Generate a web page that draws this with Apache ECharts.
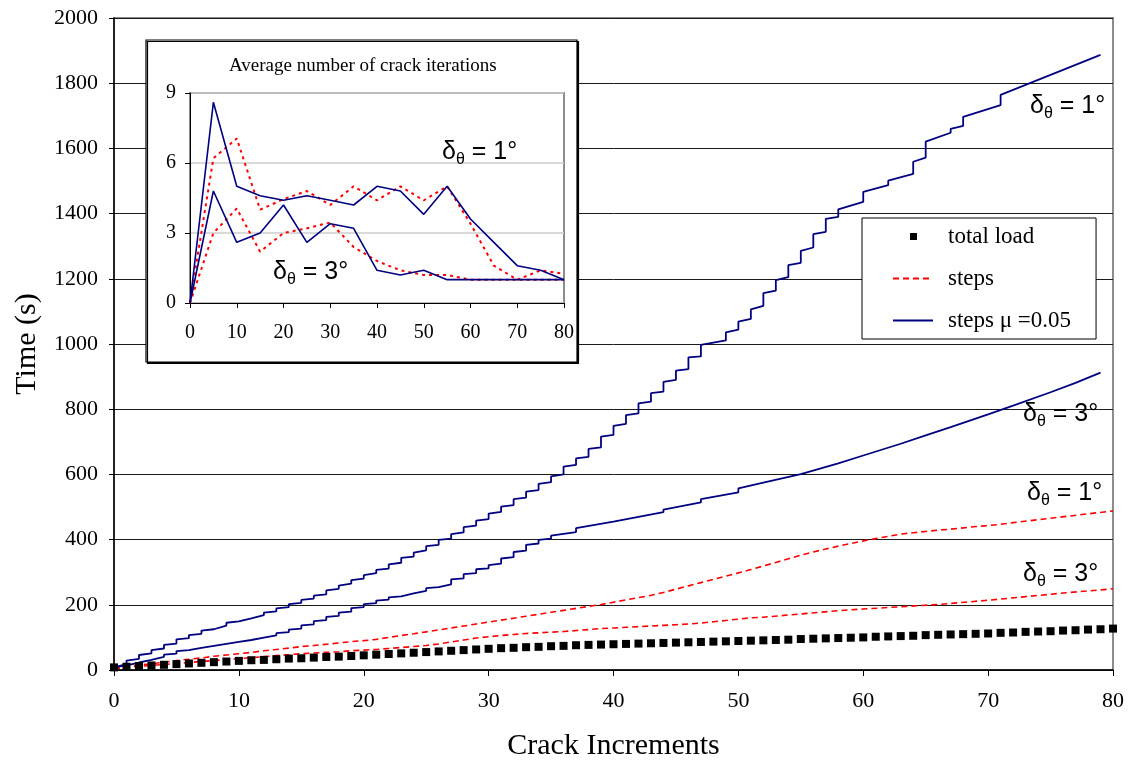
<!DOCTYPE html>
<html>
<head>
<meta charset="utf-8">
<script src="https://cdn.jsdelivr.net/npm/echarts@6/dist/echarts.min.js"></script>
<style>
  html, body { margin: 0; padding: 0; background: #fff; }
  #chart { width: 1129px; height: 763px; }
</style>
</head>
<body>
<div id="chart"></div>
<script>
// ---- Main chart: run time per crack increment ----
// Axis ticks
const xTicks = [0, 10, 20, 30, 40, 50, 60, 70, 80];
const yTicks = [0, 200, 400, 600, 800, 1000, 1200, 1400, 1600, 1800, 2000];

// Total load time, one value per crack increment 0..80
const totalLoad = [8, 10, 12, 14, 16, 18, 20, 22, 24, 26, 28, 30, 31, 33, 35, 36, 38, 40, 41, 43,
  45, 47, 49, 51, 53, 55, 57, 59, 61, 63, 65, 67, 68, 70, 71, 73, 74, 76, 77, 78,
  79, 80, 81, 82, 83, 84, 85, 86, 87, 88, 89, 90, 91, 92, 93, 95, 96, 97, 98, 99,
  100, 102, 103, 104, 105, 107, 108, 109, 110, 111, 112, 114, 115, 117, 118, 119, 121, 122, 124, 125, 127];

// "steps", delta_theta = 1 deg
const stepsOneX = [0, 1, 2, 3, 4, 5, 6, 7, 8, 9, 10, 11, 12, 13, 14, 15, 16, 17, 18, 19, 20,
  21, 22, 23, 24, 25, 26, 27, 28, 29, 30, 31, 32, 33, 34, 35, 36, 37, 38, 39, 40,
  41, 42, 43, 44, 45, 46, 47, 48, 49, 50, 51, 52, 53, 54, 55, 56, 57, 58, 59, 60,
  61, 62, 63, 64, 65, 66, 67, 68, 69, 70, 71, 72, 80];
const stepsOneY = [5, 10, 15, 19, 24, 29, 33, 37, 42, 46, 50, 54, 59, 63, 67, 72, 75, 79, 83, 87, 90,
  94, 100, 106, 111, 117, 123, 129, 135, 141, 147, 153, 159, 165, 171, 177, 183, 189, 195, 201, 208,
  215, 222, 229, 238, 248, 258, 268, 278, 288, 298, 308, 319, 330, 341, 352, 362, 371, 380, 388, 396,
  403, 410, 417, 421, 425, 429, 432, 436, 440, 443, 447, 452, 488];

// "steps", delta_theta = 3 deg
const stepsThreeX = [0, 1, 2, 3, 4, 5, 6, 7, 8, 9, 10, 11, 12, 13, 14, 15, 16, 17, 18, 19, 20,
  21, 22, 23, 24, 25, 26, 27, 28, 29, 30, 31, 32, 33, 34, 35, 36, 37, 38, 39, 40,
  41, 42, 43, 44, 45, 46, 47, 48, 49, 50, 51, 52, 55, 58, 60, 63, 66, 70, 73, 76, 80];
const stepsThreeY = [5, 8, 11, 14, 17, 20, 23, 26, 29, 32, 35, 38, 41, 44, 47, 50, 52, 54, 56, 59, 61,
  63, 66, 69, 72, 75, 80, 86, 92, 98, 102, 106, 109, 112, 114, 116, 118, 121, 124, 127, 129,
  131, 133, 135, 137, 139, 141, 144, 148, 152, 156, 160, 162, 172, 182, 187, 194, 201, 214, 225, 236, 249];

// "steps mu = 0.05", delta_theta = 1 deg: time before / after each crack iteration jump
const muOneX = [0, 1, 2, 3, 4, 5, 6, 7, 8, 9, 10, 11, 12, 13, 14, 15, 16, 17, 18, 19, 20,
  21, 22, 23, 24, 25, 26, 27, 28, 29, 30, 31, 32, 33, 34, 35, 36, 37, 38, 39, 40,
  41, 42, 43, 44, 45, 46, 47, 49, 50, 51, 52, 53, 54, 55, 56, 57, 58, 60, 62, 64, 65, 67, 68, 71, 79];
const muOneBefore = [8, 18, 34, 51, 66, 81, 98, 111, 125, 136, 149, 158, 168, 180, 193, 206, 219, 232, 249, 265, 280,
  297, 311, 329, 348, 367, 384, 403, 422, 443, 463, 485, 506, 529, 552, 576, 600, 629, 654, 683, 721,
  755, 787, 823, 854, 890, 923, 962, 1011, 1044, 1077, 1117, 1164, 1205, 1249, 1296, 1344, 1390, 1436, 1487, 1522, 1572, 1648, 1669, 1733, 1887];
const muOneAfter = [8, 29, 46, 61, 77, 94, 107, 121, 131, 145, 154, 164, 176, 189, 202, 215, 228, 244, 259, 276, 291,
  307, 324, 344, 360, 380, 399, 417, 438, 458, 480, 501, 524, 547, 571, 594, 624, 649, 678, 716, 749,
  782, 818, 849, 884, 918, 959, 997, 1036, 1069, 1106, 1156, 1196, 1242, 1286, 1337, 1384, 1413, 1467, 1501, 1559, 1621, 1660, 1697, 1764, 1887];

// "steps mu = 0.05", delta_theta = 3 deg
const muThreeX = [0, 1, 2, 3, 4, 5, 6, 7, 8, 9, 10, 11, 12, 13, 14, 15, 16, 17, 18, 19, 20,
  21, 22, 23, 24, 25, 26, 27, 28, 29, 30, 31, 32, 33, 34, 35, 37, 40, 44, 47, 50,
  52, 55, 58, 60, 63, 65, 67, 70, 72, 75, 77, 79];
const muThreeBefore = [8, 14, 23, 31, 40, 50, 61, 68, 74, 80, 86, 92, 99, 106, 116, 127, 140, 153, 166, 179, 193,
  205, 216, 226, 235, 243, 254, 263, 281, 297, 312, 326, 346, 366, 388, 403, 423, 455, 484, 514, 545,
  575, 601, 634, 658, 694, 720, 745, 784, 811, 852, 881, 912];
const muThreeAfter = [8, 20, 28, 37, 47, 58, 66, 72, 78, 84, 90, 97, 104, 113, 124, 137, 150, 163, 176, 190, 202,
  213, 223, 232, 240, 251, 260, 278, 294, 309, 322, 342, 362, 384, 399, 412, 435, 459, 492, 524, 557,
  575, 601, 634, 658, 694, 720, 745, 784, 811, 852, 881, 912];

// ---- Inset: average number of crack iterations ----
const insetX = [0, 5, 10, 15, 20, 25, 30, 35, 40, 45, 50, 55, 60, 65, 70, 75, 80];
const insetXTicks = [0, 10, 20, 30, 40, 50, 60, 70, 80];
const insetYTicks = [0, 3, 6, 9];
const iterMuOne = [0, 8.6, 5.0, 4.6, 4.4, 4.6, 4.4, 4.2, 5.0, 4.8, 3.8, 5.0, 3.6, 2.6, 1.6, 1.4, 1.0];
const iterMuThree = [0, 4.8, 2.6, 3.0, 4.2, 2.6, 3.4, 3.2, 1.4, 1.2, 1.4, 1.0, 1.0, 1.0, 1.0, 1.0, 1.0];
const iterStepsOne = [0, 6.2, 7.05, 4.0, 4.45, 4.8, 4.2, 5.0, 4.4, 5.0, 4.4, 5.0, 3.4, 1.6, 1.0, 1.4, 1.25];
const iterStepsThree = [0, 3.0, 4.05, 2.2, 3.0, 3.2, 3.45, 2.4, 1.8, 1.4, 1.2, 1.2, 1.0, 1.0, 1.0, 1.0, 1.0];

const SERIF = '"Liberation Serif", "Times New Roman", serif';
const SANS = '"Liberation Sans", Arial, sans-serif';
const NAVY = '#000080';
const RED = '#ff0000';

function pairs(xs, ys) { return xs.map((x, i) => [x, ys[i]]); }
// Each increment: vertical jump at x from "before" to "after"
function stairs(xs, before, after) {
  const pts = [];
  xs.forEach((x, i) => {
    pts.push([x, before[i]]);
    if (after[i] !== before[i]) pts.push([x, after[i]]);
  });
  return pts;
}
const plain = v => String(v);

const thetaRich = {
  d: { fontFamily: SANS, fontSize: 25, color: '#000', lineHeight: 30, verticalAlign: 'middle' },
  s: { fontFamily: SANS, fontSize: 16, color: '#000', lineHeight: 14, verticalAlign: 'bottom' },
  t: { fontFamily: SANS, fontSize: 25, color: '#000', lineHeight: 30, verticalAlign: 'middle' }
};
function thetaLabel(x, y, deg) {
  return {
    type: 'text', left: x, top: y, z: 30,
    style: { text: '{d|δ}{s|θ}{t| = ' + deg + '°}', rich: thetaRich }
  };
}

const chart = echarts.init(document.getElementById('chart'), null, { renderer: 'canvas' });

const option = {
  animation: false,
  backgroundColor: '#fff',
  title: {
    text: 'Average number of crack iterations',
    left: 224, top: 52, z: 30,
    textStyle: { fontFamily: SERIF, fontSize: 19, fontWeight: 'normal', color: '#000' }
  },
  legend: {
    left: 862, top: 218, orient: 'vertical', z: 20,
    itemWidth: 40, itemHeight: 14, itemGap: 19,
    padding: [7, 25, 7, 30],
    backgroundColor: '#fff', borderColor: '#000', borderWidth: 1,
    textStyle: { fontFamily: SERIF, fontSize: 23, color: '#000', padding: [0, 0, 0, 10] },
    data: [
      { name: 'total load', icon: 'path://M0,0h0.05v0.05h-0.05z M17,3h7v7h-7z M40,13h0.05v0.05h-0.05z' },
      { name: 'steps', itemStyle: { opacity: 0 } },
      { name: 'steps μ =0.05', itemStyle: { opacity: 0 } }
    ]
  },
  grid: [
    { left: 114, top: 18, right: 16, bottom: 93, outerBoundsMode: 'none', containLabel: false,
      show: true, borderColor: '#8c8c8c', borderWidth: 2, backgroundColor: 'transparent' },
    { left: 190, top: 93, width: 374, height: 210, outerBoundsMode: 'none', containLabel: false,
      show: true, borderColor: '#8c8c8c', borderWidth: 2, backgroundColor: '#fff', z: 6 }
  ],
  xAxis: [
    {
      gridIndex: 0, type: 'value', min: xTicks[0], max: xTicks[xTicks.length - 1], interval: xTicks[1] - xTicks[0],
      name: 'Crack Increments', nameLocation: 'middle', nameGap: 61,
      nameTextStyle: { fontFamily: SERIF, fontSize: 30, color: '#000' },
      axisLine: { show: true, lineStyle: { color: '#000', width: 1.5 } },
      axisTick: { show: true, length: 6, lineStyle: { color: '#000' } },
      axisLabel: { color: '#000', fontFamily: SERIF, fontSize: 22, margin: 20, formatter: plain },
      splitLine: { show: false }
    },
    {
      gridIndex: 1, type: 'value', min: insetXTicks[0], max: insetXTicks[insetXTicks.length - 1], interval: 10, z: 8,
      axisLine: { show: true, lineStyle: { color: '#000', width: 1 } },
      axisTick: { show: true, length: 5, lineStyle: { color: '#000' } },
      axisLabel: { color: '#000', fontFamily: SERIF, fontSize: 20, margin: 20, formatter: plain },
      splitLine: { show: false }
    }
  ],
  yAxis: [
    {
      gridIndex: 0, type: 'value', min: yTicks[0], max: yTicks[yTicks.length - 1], interval: yTicks[1] - yTicks[0],
      name: 'Time (s)', nameLocation: 'middle', nameGap: 72,
      nameTextStyle: { fontFamily: SERIF, fontSize: 30, color: '#000' },
      axisLine: { show: true, lineStyle: { color: '#000', width: 1.5 } },
      axisTick: { show: true, length: 5, lineStyle: { color: '#000' } },
      axisLabel: { color: '#000', fontFamily: SERIF, fontSize: 22, margin: 16, formatter: plain },
      splitLine: { show: true, lineStyle: { color: '#1a1a1a', width: 1 } }
    },
    {
      gridIndex: 1, type: 'value', min: insetYTicks[0], max: insetYTicks[insetYTicks.length - 1], interval: 3, z: 8,
      axisLine: { show: true, lineStyle: { color: '#000', width: 1 } },
      axisTick: { show: true, length: 5, lineStyle: { color: '#000' } },
      axisLabel: { color: '#000', fontFamily: SERIF, fontSize: 20, margin: 14, formatter: plain },
      splitLine: { show: true, lineStyle: { color: '#cccccc', width: 1.5 } }
    }
  ],
  series: [
    {
      name: 'steps', type: 'line', xAxisIndex: 0, yAxisIndex: 0, symbol: 'none', z: 3,
      color: RED, lineStyle: { color: RED, width: 1.6, type: [6, 4] },
      data: pairs(stepsOneX, stepsOneY)
    },
    {
      name: 'steps', type: 'line', xAxisIndex: 0, yAxisIndex: 0, symbol: 'none', z: 3,
      color: RED, lineStyle: { color: RED, width: 1.6, type: [6, 4] },
      data: pairs(stepsThreeX, stepsThreeY)
    },
    {
      name: 'steps μ =0.05', type: 'line', xAxisIndex: 0, yAxisIndex: 0, symbol: 'none', z: 3,
      color: NAVY, lineStyle: { color: NAVY, width: 1.8 },
      data: stairs(muOneX, muOneBefore, muOneAfter)
    },
    {
      name: 'steps μ =0.05', type: 'line', xAxisIndex: 0, yAxisIndex: 0, symbol: 'none', z: 3,
      color: NAVY, lineStyle: { color: NAVY, width: 1.8 },
      data: stairs(muThreeX, muThreeBefore, muThreeAfter)
    },
    {
      name: 'total load', type: 'scatter', xAxisIndex: 0, yAxisIndex: 0, z: 4,
      symbol: 'rect', symbolSize: 8, color: '#000', itemStyle: { color: '#000', opacity: 1 },
      data: totalLoad.map((v, i) => [i, v])
    },
    {
      name: 'iterations steps 1', type: 'line', xAxisIndex: 1, yAxisIndex: 1, symbol: 'none', z: 10,
      lineStyle: { color: RED, width: 2, type: [3, 4] }, data: pairs(insetX, iterStepsOne)
    },
    {
      name: 'iterations steps 3', type: 'line', xAxisIndex: 1, yAxisIndex: 1, symbol: 'none', z: 10,
      lineStyle: { color: RED, width: 2, type: [3, 4] }, data: pairs(insetX, iterStepsThree)
    },
    {
      name: 'iterations mu 1', type: 'line', xAxisIndex: 1, yAxisIndex: 1, symbol: 'none', z: 11,
      lineStyle: { color: NAVY, width: 1.6 }, data: pairs(insetX, iterMuOne)
    },
    {
      name: 'iterations mu 3', type: 'line', xAxisIndex: 1, yAxisIndex: 1, symbol: 'none', z: 11,
      lineStyle: { color: NAVY, width: 1.6 }, data: pairs(insetX, iterMuThree)
    }
  ],
  graphic: [
    {
      type: 'rect', z: 5, silent: true,
      shape: { x: 146, y: 40, width: 431, height: 322 },
      style: { fill: '#fff', stroke: '#000', lineWidth: 1.2, shadowColor: '#000', shadowOffsetX: 1.5, shadowOffsetY: 1.5, shadowBlur: 0 }
    },
    thetaLabel(1030, 94, 1),
    thetaLabel(1023, 402, 3),
    thetaLabel(1027, 481, 1),
    thetaLabel(1023, 562, 3),
    thetaLabel(442, 140, 1),
    thetaLabel(273, 260, 3)
  ]
};

chart.setOption(option);
</script>
</body>
</html>
